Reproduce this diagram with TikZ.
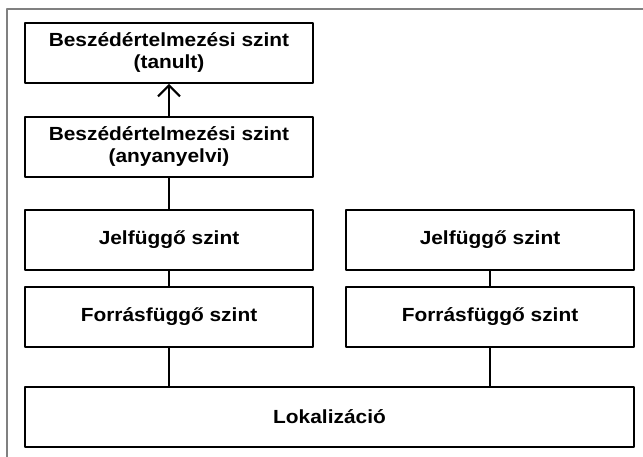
\documentclass[tikz,border=0pt]{standalone}
\usepackage{fontspec}
\setmainfont{Liberation Sans}[FakeStretch=1.1]
\usetikzlibrary{arrows.meta}

\tikzset{
  level/.style={draw, line width=2pt, minimum width=288pt, minimum height=60pt,
    inner sep=0pt, align=center, font=\bfseries\fontsize{19}{22}\selectfont},
  link/.style={line width=2pt}
}

\begin{document}
\begin{tikzpicture}[x=1pt, y=-1pt, >={Straight Barb[length=11pt, width=22pt, line width=2pt]},
    line cap=round, line join=round]
  \useasboundingbox (0, 0) rectangle (643, 457);
  % Frame
  \draw[gray, line width=1.5pt] (7, 457) -- (7, 9) -- (643, 9);

  % Left column
  \node[level] (tanult) at (169, 53) {Beszédértelmezési szint\\(tanult)};
  \node[level] (anyanyelvi) at (169, 147) {Beszédértelmezési szint\\(anyanyelvi)};
  \node[level] (jelL) at (169, 240) {Jelfüggő szint};
  \node[level] (forrasL) at (169, 317) {Forrásfüggő szint};

  % Right column
  \node[level] (jelR) at (490, 240) {Jelfüggő szint};
  \node[level] (forrasR) at (490, 317) {Forrásfüggő szint};

  % Bottom
  \node[level, minimum width=609pt] (lok) at (329.5, 417) {Lokalizáció};

  % Connections
  \draw[link, ->] (anyanyelvi) -- (tanult);
  \draw[link] (anyanyelvi) -- (jelL);
  \draw[link] (jelL) -- (forrasL);
  \draw[link] (jelR) -- (forrasR);
  \draw[link] (forrasL.south) -- (forrasL.south |- lok.north);
  \draw[link] (forrasR.south) -- (forrasR.south |- lok.north);
\end{tikzpicture}
\end{document}
